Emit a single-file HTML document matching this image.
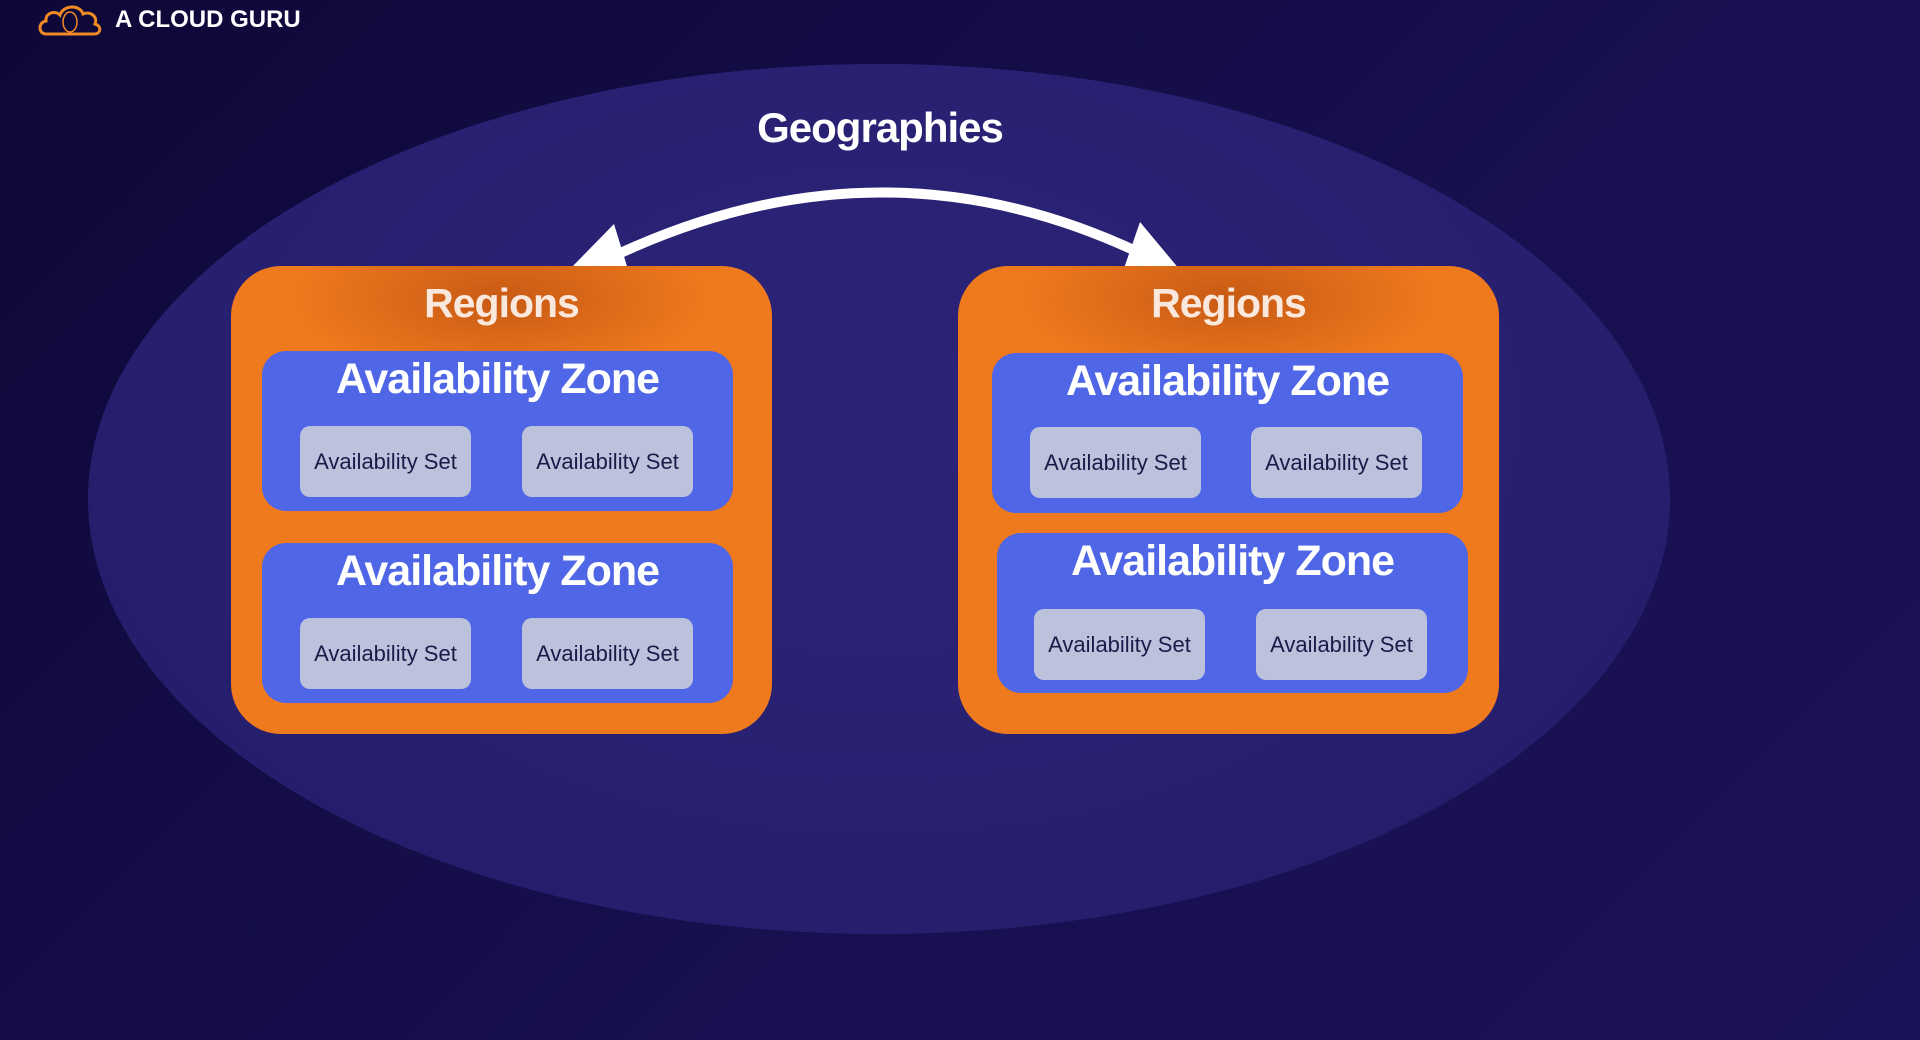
<!DOCTYPE html>
<html><head><meta charset="utf-8"><style>
html,body{margin:0;padding:0;}
body{width:1920px;height:1040px;overflow:hidden;position:relative;background:linear-gradient(135deg,#0e0838 0%,#181050 60%,#1a1256 100%);font-family:"Liberation Sans",sans-serif;}
.ell{position:absolute;left:88px;top:64px;width:1582px;height:870px;border-radius:50%;background:radial-gradient(ellipse at 50% 40%,#2c2378 0%,#272070 60%,#221b66 100%);}
.reg{position:absolute;width:541px;height:468px;border-radius:50px;background:radial-gradient(ellipse 40% 18% at 50% 7%,#c85a14 0%,#ef7a1e 100%);}
.rt{position:absolute;left:0;right:0;top:14px;text-align:center;color:#fbe8dc;font-weight:bold;font-size:41px;letter-spacing:-1px;}
.az{position:absolute;width:471px;height:160px;border-radius:24px;background:#4f66e6;}
.azt{position:absolute;left:0;right:0;top:4px;text-align:center;color:#fff;font-weight:bold;font-size:43px;letter-spacing:-1px;}
.set{position:absolute;width:171px;height:71px;border-radius:10px;background:#bcc2dc;color:#1b1a48;font-size:22px;line-height:71px;text-align:center;}
.geo{position:absolute;left:0;width:1760px;top:104px;text-align:center;color:#fff;font-weight:bold;font-size:42px;letter-spacing:-1px;}
.logo{position:absolute;left:115px;top:6px;color:#fff;font-weight:bold;font-size:24px;}
</style></head><body>
<svg style="position:absolute;left:38px;top:2px" width="66" height="34" viewBox="0 0 66 34"><path d="M8 32 C0 32 0 20 8 19 C7 11 17 8 22 13 C25 3 42 2 45 12 C52 9 60 14 57 22 C64 24 63 32 56 32 Z" fill="none" stroke="#f08a24" stroke-width="3"/><ellipse cx="32" cy="20" rx="7" ry="10" fill="none" stroke="#f08a24" stroke-width="1.5"/></svg>
<div class="logo">A CLOUD GURU</div>
<div class="ell"></div>
<div class="geo">Geographies</div>
<svg style="position:absolute;left:0;top:0" width="1920" height="1040">
<path d="M612 257 Q880 130 1140 253" fill="none" stroke="#fff" stroke-width="10"/>
<polygon points="569,270 614,224 630,276" fill="#fff"/>
<polygon points="1180,270 1122,274 1140,222" fill="#fff"/>
</svg>
<div class="reg" style="left:231px;top:266px"><div class="rt">Regions</div></div>
<div class="reg" style="left:958px;top:266px"><div class="rt">Regions</div></div>
<div class="az" style="left:262px;top:351px"><div class="azt">Availability Zone</div></div>
<div class="az" style="left:262px;top:543px"><div class="azt">Availability Zone</div></div>
<div class="az" style="left:992px;top:353px"><div class="azt">Availability Zone</div></div>
<div class="az" style="left:997px;top:533px"><div class="azt">Availability Zone</div></div>
<div class="set" style="left:300px;top:426px">Availability Set</div>
<div class="set" style="left:522px;top:426px">Availability Set</div>
<div class="set" style="left:300px;top:618px">Availability Set</div>
<div class="set" style="left:522px;top:618px">Availability Set</div>
<div class="set" style="left:1030px;top:427px">Availability Set</div>
<div class="set" style="left:1251px;top:427px">Availability Set</div>
<div class="set" style="left:1034px;top:609px">Availability Set</div>
<div class="set" style="left:1256px;top:609px">Availability Set</div>
</body></html>
